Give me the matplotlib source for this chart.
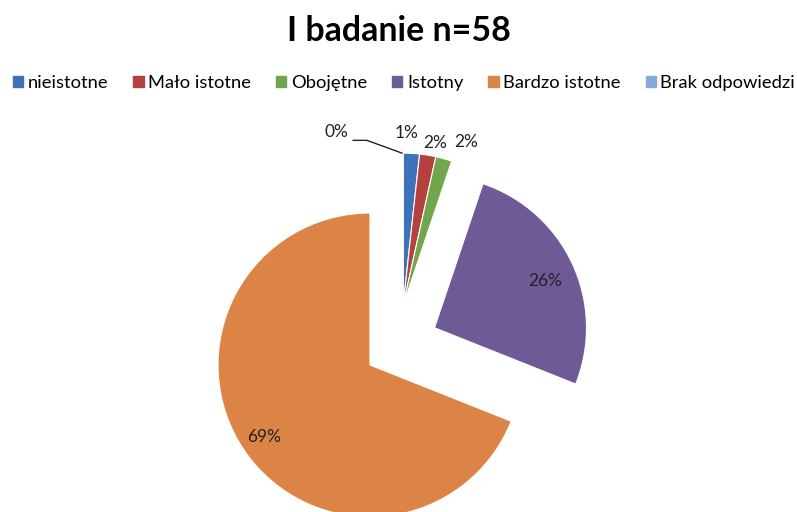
import numpy as np
import matplotlib.pyplot as plt

plt.rcParams['font.family'] = ['Lato', 'DejaVu Sans']

categories = ["nieistotne", "Mało istotne", "Obojętne", "Istotny", "Bardzo istotne", "Brak odpowiedzi"]
counts = [1, 1, 1, 15, 40, 0]
pct_labels = ["1%", "2%", "2%", "26%", "69%", "0%"]
colors = ["#3d71b8", "#b4403f", "#72a64c", "#6e5a96", "#dc8445", "#86aadb"]

# shift of each slice away from the centre: (distance in radii, direction in degrees)
shifts = [(0.45, 61), (0.45, 61), (0.45, 61), (0.49, 30), (0, 0), (0.45, 61)]
# label placement: (distance in radii, angle offset from slice middle)
label_pos = [(1.13, 2), (1.09, -2), (1.15, -5.5), (0.79, -2), (0.84, 0), (1.0, 0)]

fig = plt.figure(figsize=(7.97, 5.12), dpi=100)
ax = fig.add_axes([0, 0, 1, 1])

cx, cy, R = 370, 147, 152
wedges, _ = ax.pie(counts, colors=colors, startangle=90, counterclock=False,
                   center=(cx, cy), radius=R,
                   wedgeprops=dict(edgecolor='white', linewidth=0.8))

for i, w in enumerate(wedges):
    d, ang = shifts[i]
    ox = cx + d * R * np.cos(np.radians(ang))
    oy = cy + d * R * np.sin(np.radians(ang))
    w.set_center((ox, oy))
    if counts[i] == 0:
        # leader line for the empty slice
        tip = (ox - 1, oy + R)
        ax.annotate(pct_labels[i], xy=tip, xytext=(-47, 15), textcoords='offset points',
                    fontsize=12.5, color='#222222', ha='center', va='center',
                    arrowprops=dict(arrowstyle='-', color='#222222', lw=1,
                                    connectionstyle='angle,angleA=0,angleB=160,rad=0',
                                    relpos=(1.0, 0.0), shrinkA=1, shrinkB=0))
        continue
    lr, dth = label_pos[i]
    mid = np.radians((w.theta1 + w.theta2) / 2 + dth)
    tx = ox + lr * R * np.cos(mid)
    ty = oy + lr * R * np.sin(mid)
    ax.text(tx, ty, pct_labels[i], fontsize=12.5, color='#222222', ha='center', va='center')

ax.set_xlim(0, 797)
ax.set_ylim(0, 512)
ax.set_aspect('equal')
ax.axis('off')

fig.text(0.5, 0.94, "I badanie n=58", fontsize=24.4, fontweight='bold', ha='center', va='center')

handles = [plt.Rectangle((0, 0), 1, 1, color=c) for c in colors]
fig.legend(handles, categories, loc='center', bbox_to_anchor=(0.507, 0.838), ncol=6,
           frameon=False, fontsize=13.2, handlelength=0.55, handleheight=0.55,
           handletextpad=0.25, columnspacing=1.37, borderpad=0, borderaxespad=0)

fig.savefig("out.png", dpi=100)
